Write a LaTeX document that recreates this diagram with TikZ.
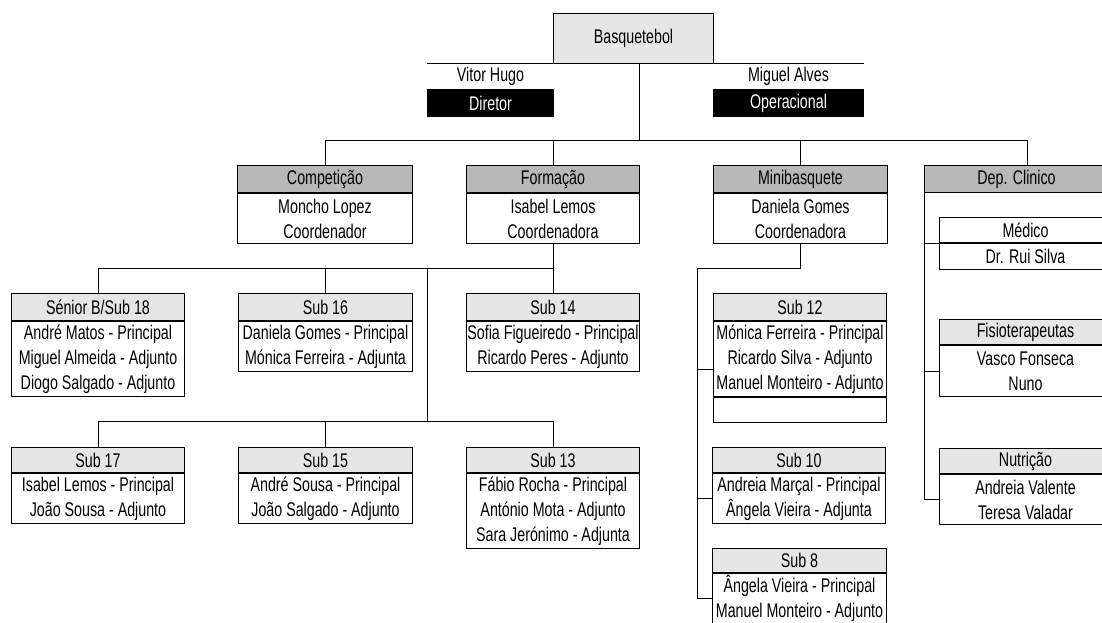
\documentclass[tikz,border=0pt]{standalone}
\usepackage{fontspec}
\setmainfont{Liberation Sans}[FakeStretch=0.72]
\definecolor{hlight}{RGB}{230,230,230}
\definecolor{hdark}{RGB}{184,184,184}
\begin{document}
\begin{tikzpicture}[x=1pt,y=-1pt,
  box/.style={draw, line width=1pt, inner sep=0pt, anchor=north west,
    font=\fontsize{19.8}{25}\selectfont, align=center},
  hl/.style={box, fill=hlight},
  hd/.style={box, fill=hdark},
  bd/.style={box, fill=white},
  conn/.style={line width=1pt}]
\useasboundingbox (0,0) rectangle (1102,622);
\clip (0,0) rectangle (1102,622);

% top
\node[hl, minimum width=160pt, minimum height=50pt] (basq) at (553,13) {Basquetebol};
\node[box, draw=none, minimum width=126pt, minimum height=25pt] (vh) at (427,63) {Vitor Hugo};
\node[box, fill=black, text=white, minimum width=126pt, minimum height=27pt] (vhd) at (vh.south west) {Diretor};
\node[box, draw=none, minimum width=150pt, minimum height=25pt] (ma) at (713,63) {Miguel Alves};
\node[box, fill=black, text=white, minimum width=150pt, minimum height=27pt] (mad) at (ma.south west) {Operacional};
\draw[conn] (vh.north west) -- (vh.north east);
\draw[conn] (ma.north west) -- (ma.north east);

% level 2
\node[hd, minimum width=175pt, minimum height=27pt] (comp) at (237,165) {Competição};
\node[bd, minimum width=175pt, minimum height=50pt] (compb) at (comp.south west) {Moncho Lopez\\Coordenador};
\node[hd, minimum width=173pt, minimum height=27pt] (form) at (466,165) {Formação};
\node[bd, minimum width=173pt, minimum height=50pt] (formb) at (form.south west) {Isabel Lemos\\Coordenadora};
\node[hd, minimum width=174pt, minimum height=27pt] (mini) at (713,165) {Minibasquete};
\node[bd, minimum width=174pt, minimum height=50pt] (minib) at (mini.south west) {Daniela Gomes\\Coordenadora};
\node[hd, minimum width=184pt, minimum height=27pt] (clin) at (924,165) {Dep. Clinico};

% level 3 (Formação)
\node[hl, minimum width=173pt, minimum height=27pt] (s18) at (11,293) {Sénior B/Sub 18};
\node[bd, minimum width=173pt, minimum height=75pt] (s18b) at (s18.south west) {André Matos - Principal\\Miguel Almeida - Adjunto\\Diogo Salgado - Adjunto};
\node[hl, minimum width=174pt, minimum height=27pt] (s16) at (238,293) {Sub 16};
\node[bd, minimum width=174pt, minimum height=50pt] (s16b) at (s16.south west) {Daniela Gomes - Principal\\Mónica Ferreira - Adjunta};
\node[hl, minimum width=173pt, minimum height=27pt] (s14) at (466,293) {Sub 14};
\node[bd, minimum width=173pt, minimum height=50pt] (s14b) at (s14.south west) {Sofia Figueiredo - Principal\\Ricardo Peres - Adjunto};
\node[hl, minimum width=173pt, minimum height=25pt] (s17) at (11,447) {Sub 17};
\node[bd, minimum width=173pt, minimum height=50pt] (s17b) at (s17.south west) {Isabel Lemos - Principal\\João Sousa - Adjunto};
\node[hl, minimum width=174pt, minimum height=25pt] (s15) at (238,447) {Sub 15};
\node[bd, minimum width=174pt, minimum height=50pt] (s15b) at (s15.south west) {André Sousa - Principal\\João Salgado - Adjunto};
\node[hl, minimum width=173pt, minimum height=25pt] (s13) at (466,447) {Sub 13};
\node[bd, minimum width=173pt, minimum height=75pt] (s13b) at (s13.south west) {Fábio Rocha - Principal\\António Mota - Adjunto\\Sara Jerónimo - Adjunta};

% Minibasquete
\node[hl, minimum width=173pt, minimum height=27pt] (s12) at (713,293) {Sub 12};
\node[bd, minimum width=173pt, minimum height=75pt] (s12b) at (s12.south west) {Mónica Ferreira - Principal\\Ricardo Silva - Adjunto\\Manuel Monteiro - Adjunto};
\node[bd, minimum width=173pt, minimum height=25pt] (s12e) at (s12b.south west) {};
\node[hl, minimum width=173pt, minimum height=25pt] (s10) at (712,447) {Sub 10};
\node[bd, minimum width=173pt, minimum height=50pt] (s10b) at (s10.south west) {Andreia Marçal - Principal\\Ângela Vieira - Adjunta};
\node[hl, minimum width=174pt, minimum height=24pt] (s8) at (712,548) {Sub 8};
\node[bd, minimum width=174pt, minimum height=50pt] (s8b) at (s8.south west) {Ângela Vieira - Principal\\Manuel Monteiro - Adjunto};

% Dep. Clinico
\node[bd, minimum width=172pt, minimum height=25pt] (med) at (939,217) {Médico};
\node[bd, minimum width=172pt, minimum height=26pt] (medb) at (med.south west) {Dr. Rui Silva};
\node[hl, minimum width=172pt, minimum height=25pt] (fis) at (939,319) {Fisioterapeutas};
\node[bd, minimum width=172pt, minimum height=51pt] (fisb) at (fis.south west) {Vasco Fonseca\\Nuno};
\node[hl, minimum width=172pt, minimum height=25pt] (nut) at (939,448) {Nutrição};
\node[bd, minimum width=172pt, minimum height=50pt] (nutb) at (nut.south west) {Andreia Valente\\Teresa Valadar};

% connectors
\coordinate (t0) at (639,140);
\coordinate (clinv) at (1027,165);
\coordinate (b2) at (0,268);
\coordinate (b3) at (0,421);
\coordinate (mid) at (427,268);
\coordinate (mv) at (697,268);
\coordinate (j12) at (713,369);

\draw[conn] (basq.south -| t0) -- (t0);
\draw[conn] (comp.north) -- (comp.north |- t0) -- (t0 -| clinv) -- (clinv);
\draw[conn] (form.north) -- (form.north |- t0);
\draw[conn] (mini.north) -- (mini.north |- t0);

\draw[conn] (formb.south) -- (s14.north);
\draw[conn] (s18.north) -- (s18.north |- b2) -- (formb.south |- b2);
\draw[conn] (s16.north) -- (s16.north |- b2);
\draw[conn] (mid) -- (mid |- b3);
\draw[conn] (s17.north) -- (s17.north |- b3) -- (s13.north |- b3) -- (s13.north);
\draw[conn] (s15.north) -- (s15.north |- b3);

\draw[conn] (minib.south) -- (minib.south |- b2) -- (mv) -- (mv |- s8b.west) -- (s8b.west);
\draw[conn] (mv |- s10b.west) -- (s10b.west);
\draw[conn] (mv |- j12) -- (j12);

\draw[conn] (clin.south west) -- (clin.south west |- nutb.west) -- (nutb.west);
\draw[conn] (clin.south west |- med.south west) -- (med.south west);
\draw[conn] (clin.south west |- fisb.west) -- (fisb.west);
\end{tikzpicture}
\end{document}
